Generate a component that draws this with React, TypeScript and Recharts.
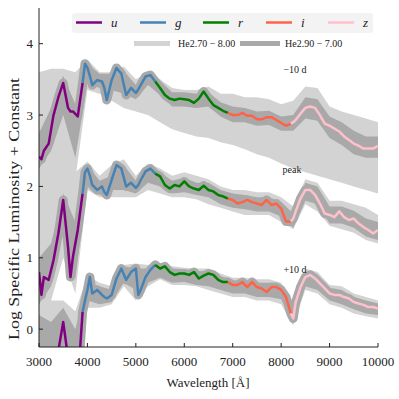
import { ComposedChart, Line, Area, XAxis, YAxis } from 'recharts';

// ─────────────────────────────────────────────
// Spectra (log specific luminosity + offset)
// ─────────────────────────────────────────────

const WAVE = [
  3000, 3050, 3100, 3200, 3300, 3400, 3500, 3600, 3650, 3700, 3800, 3900, 3950, 4000, 4050, 4100,
  4200, 4300, 4350, 4400, 4500, 4600, 4700, 4800, 4900, 5000, 5050, 5100, 5200, 5300, 5400, 5500,
  5600, 5700, 5800, 5900, 6000, 6100, 6200, 6300, 6400, 6500, 6600, 6700, 6800, 6900, 7000, 7100,
  7200, 7300, 7400, 7500, 7600, 7700, 7800, 7900, 8000, 8100, 8200, 8250, 8300, 8400, 8500, 8600,
  8700, 8800, 8900, 9000, 9100, 9200, 9300, 9400, 9500, 9600, 9700, 9800, 9900, 10000,
];

const NEG10 = [
  2.42, 2.38, 2.5, 2.6, 3.0, 3.25, 3.45, 3.1, 3.05, 3.05, 2.98, 3.45, 3.72, 3.66, 3.55, 3.42,
  3.49, 3.47, 3.38, 3.21, 3.49, 3.66, 3.58, 3.28, 3.38, 3.31, 3.36, 3.42, 3.54, 3.56, 3.47, 3.38,
  3.28, 3.23, 3.21, 3.23, 3.22, 3.21, 3.17, 3.23, 3.33, 3.23, 3.14, 3.1, 3.06, 3.03, 3.0, 3.0,
  3.03, 2.99, 2.99, 2.94, 2.94, 2.97, 2.97, 2.93, 2.89, 2.85, 2.88, 2.9, 2.93, 3.02, 3.1, 3.12,
  3.1, 3.0, 2.88, 2.85, 2.81, 2.77, 2.7, 2.65, 2.6, 2.57, 2.53, 2.53, 2.53, 2.57,
];

const PEAK = [
  0.8, 0.48, 0.73, 0.69, 0.97, 1.34, 1.81, 1.15, 0.73, 1.01, 1.39, 1.9, 2.2, 2.25, 2.15, 2.02,
  1.95, 2.0, 1.92, 1.88, 2.09, 2.3, 2.25, 2.0, 2.05, 1.98, 2.02, 2.09, 2.21, 2.25, 2.18, 2.14,
  2.02, 1.97, 2.02, 2.0, 2.07, 2.0, 1.97, 1.95, 2.01, 1.95, 1.93, 1.88, 1.86, 1.83, 1.81, 1.76,
  1.78, 1.81, 1.78, 1.76, 1.74, 1.81, 1.74, 1.76, 1.69, 1.51, 1.51, 1.55, 1.65, 1.83, 1.95, 1.95,
  1.88, 1.76, 1.62, 1.6, 1.57, 1.65, 1.57, 1.53, 1.55, 1.48, 1.43, 1.39, 1.34, 1.39,
];

const POS10 = [
  -0.6, -0.65, -0.7, -0.6, -0.55, -0.3, 0.1, -0.4, -0.7, -0.9, -0.75, 0.24, 0.4, 0.55, 0.73, 0.5,
  0.55, 0.48, 0.45, 0.43, 0.48, 0.71, 0.85, 0.69, 0.8, 0.85, 0.48, 0.55, 0.73, 0.83, 0.9, 0.85,
  0.88, 0.8, 0.76, 0.78, 0.78, 0.76, 0.8, 0.71, 0.75, 0.78, 0.76, 0.69, 0.66, 0.66, 0.62, 0.62,
  0.66, 0.59, 0.66, 0.59, 0.57, 0.52, 0.59, 0.59, 0.55, 0.45, 0.22, 0.15, 0.38, 0.59, 0.73, 0.76,
  0.71, 0.64, 0.57, 0.5, 0.48, 0.48, 0.45, 0.43, 0.38, 0.36, 0.34, 0.31, 0.31, 0.29,
];

// ─────────────────────────────────────────────
// Model bands (He 2.70–8.00 light, He 2.90–7.00 dark)
// ─────────────────────────────────────────────

const BAND_WAVE = [
  3000, 3250, 3500, 3750, 4000, 4250, 4500, 4750, 5000, 5250, 5500, 5750, 6000, 6250, 6500,
  6750, 7000, 7250, 7500, 7750, 8000, 8250, 8500, 8750, 9000, 9250, 9500, 9750, 10000,
];

const NEG10_LIGHT_LO = [2.0, 2.1, 2.2, 2.1, 3.35, 3.3, 3.2, 3.1, 3.05, 3.0, 2.9, 2.8, 2.75, 2.7, 2.68, 2.62, 2.58, 2.52, 2.45, 2.4, 2.32, 2.25, 2.2, 2.15, 2.1, 2.05, 2.0, 1.95, 1.9];
const NEG10_LIGHT_HI = [3.6, 3.65, 3.65, 3.6, 3.78, 3.6, 3.6, 3.68, 3.5, 3.6, 3.5, 3.38, 3.35, 3.35, 3.4, 3.3, 3.3, 3.25, 3.25, 3.22, 3.15, 3.2, 3.4, 3.38, 3.12, 3.05, 3.0, 2.95, 2.9];
const NEG10_DARK_LO = [2.25, 2.5, 3.0, 2.4, 3.45, 3.38, 3.35, 3.3, 3.22, 3.42, 3.28, 3.12, 3.12, 3.1, 3.12, 2.98, 2.9, 2.9, 2.85, 2.86, 2.78, 2.78, 2.95, 2.92, 2.68, 2.58, 2.45, 2.4, 2.4];
const NEG10_DARK_HI = [2.75, 3.1, 3.55, 3.15, 3.72, 3.58, 3.58, 3.62, 3.42, 3.62, 3.48, 3.32, 3.32, 3.3, 3.32, 3.18, 3.12, 3.1, 3.05, 3.06, 2.98, 3.0, 3.25, 3.22, 2.98, 2.9, 2.78, 2.7, 2.7];

const PEAK_LIGHT_LO = [0.2, 0.4, 1.0, 0.5, 1.95, 1.85, 1.85, 1.85, 1.85, 1.95, 1.9, 1.85, 1.85, 1.82, 1.75, 1.7, 1.65, 1.6, 1.6, 1.6, 1.5, 1.4, 1.75, 1.65, 1.45, 1.4, 1.35, 1.25, 1.2];
const PEAK_LIGHT_HI = [2.4, 2.4, 2.3, 2.2, 2.35, 2.15, 2.3, 2.38, 2.15, 2.32, 2.25, 2.15, 2.2, 2.15, 2.1, 2.0, 1.95, 1.95, 1.92, 1.92, 1.85, 1.72, 2.1, 2.05, 1.8, 1.8, 1.75, 1.7, 1.6];
const PEAK_DARK_LO = [0.35, 0.6, 1.4, 0.7, 2.05, 1.88, 1.95, 1.95, 1.9, 2.05, 2.0, 1.9, 1.92, 1.88, 1.85, 1.75, 1.7, 1.68, 1.65, 1.65, 1.58, 1.42, 1.8, 1.75, 1.48, 1.48, 1.42, 1.3, 1.25];
const PEAK_DARK_HI = [1.0, 1.2, 1.9, 1.5, 2.3, 2.08, 2.15, 2.3, 2.08, 2.28, 2.2, 2.08, 2.12, 2.05, 2.05, 1.95, 1.9, 1.88, 1.85, 1.85, 1.78, 1.62, 2.05, 2.0, 1.72, 1.72, 1.66, 1.55, 1.5];

const POS10_LIGHT_LO = [-0.3, -0.3, -0.3, -0.3, 0.3, 0.3, 0.35, 0.6, 0.4, 0.6, 0.7, 0.62, 0.62, 0.6, 0.55, 0.5, 0.45, 0.45, 0.4, 0.4, 0.35, 0.05, 0.55, 0.5, 0.35, 0.3, 0.22, 0.18, 0.15];
const POS10_LIGHT_HI = [0.5, 0.4, 0.4, 0.25, 0.75, 0.65, 0.6, 0.9, 0.92, 0.9, 0.92, 0.88, 0.86, 0.85, 0.85, 0.78, 0.72, 0.72, 0.7, 0.7, 0.65, 0.35, 0.85, 0.8, 0.62, 0.6, 0.5, 0.45, 0.4];
const POS10_DARK_LO = [-0.3, -0.3, -0.3, -0.3, 0.4, 0.35, 0.38, 0.65, 0.55, 0.65, 0.72, 0.65, 0.66, 0.62, 0.6, 0.55, 0.5, 0.5, 0.45, 0.45, 0.42, 0.08, 0.6, 0.55, 0.4, 0.35, 0.28, 0.22, 0.2];
const POS10_DARK_HI = [0.2, 0.1, 0.3, 0.0, 0.65, 0.6, 0.55, 0.88, 0.85, 0.85, 0.9, 0.85, 0.84, 0.82, 0.8, 0.74, 0.68, 0.68, 0.65, 0.65, 0.62, 0.3, 0.8, 0.75, 0.58, 0.55, 0.45, 0.4, 0.36];

// ─────────────────────────────────────────────
// Filters, axes, labels
// ─────────────────────────────────────────────

const FILTERS = ['u', 'g', 'r', 'i', 'z'];
const FILTER_EDGES = [3000, 3900, 5400, 6900, 8200, 10000];
const FILTER_COLORS = ['#800080', '#4682b4', '#008000', '#ff6347', '#ffc0cb'];

const X_TICKS = [3000, 4000, 5000, 6000, 7000, 8000, 9000, 10000];
const Y_TICKS = [0, 1, 2, 3, 4];

const EPOCH_LABELS = ['\u221210 d', 'peak', '+10 d'];
const BAND_LABELS = ['He2.70 \u2212 8.00', 'He2.90 \u2212 7.00'];

const LIGHT = '#d3d3d3';
const DARK = '#a9a9a9';
const FONT = '"Liberation Serif", "DejaVu Serif", serif';

const epochs = [
  { key: 'neg10', values: NEG10, light: [NEG10_LIGHT_LO, NEG10_LIGHT_HI], dark: [NEG10_DARK_LO, NEG10_DARK_HI] },
  { key: 'peak', values: PEAK, light: [PEAK_LIGHT_LO, PEAK_LIGHT_HI], dark: [PEAK_DARK_LO, PEAK_DARK_HI] },
  { key: 'pos10', values: POS10, light: [POS10_LIGHT_LO, POS10_LIGHT_HI], dark: [POS10_DARK_LO, POS10_DARK_HI] },
];

// one row per wavelength, with a column per epoch and per epoch/filter segment
const rows = WAVE.map((w, i) => {
  const row: Record<string, number | null> = { w };
  epochs.forEach((ep) => {
    row[ep.key] = ep.values[i];
    FILTERS.forEach((f, k) => {
      const inside = w >= FILTER_EDGES[k] && w <= FILTER_EDGES[k + 1];
      row[`${ep.key}_${f}`] = inside ? ep.values[i] : null;
    });
  });
  return row;
});

const bandRows = (lo: number[], hi: number[]) =>
  BAND_WAVE.map((w, i) => ({ w, range: [lo[i], hi[i]] }));

const TICK_STYLE = { fontFamily: FONT, fontSize: 13, fill: '#222' };

function XTick({ x, y, payload }: any) {
  return (
    <g>
      <line x1={x} x2={x} y1={y} y2={y - 4} stroke="#222" />
      <text x={x} y={y + 19} textAnchor="middle" style={TICK_STYLE}>
        {payload.value}
      </text>
    </g>
  );
}

function XTopTick({ x, y }: any) {
  return <line x1={x} x2={x} y1={y} y2={y + 4} stroke="#222" />;
}

function YTick({ x, y, payload }: any) {
  return (
    <g>
      <line x1={x} x2={x + 4} y1={y} y2={y} stroke="#222" />
      <text x={x - 6} y={y + 4.5} textAnchor="end" style={TICK_STYLE}>
        {payload.value}
      </text>
    </g>
  );
}

function YRightTick({ x, y }: any) {
  return <line x1={x} x2={x - 4} y1={y} y2={y} stroke="#222" />;
}

function Overlay() {
  const legendX = [76, 140, 203, 266, 328];
  const small = { fontFamily: FONT, fontSize: 10, fill: '#222' };
  return (
    <svg
      width={399}
      height={399}
      style={{ position: 'absolute', left: 0, top: 0, pointerEvents: 'none' }}
    >
      {/* filter legend */}
      <rect x={72} y={13} width={301} height={20} rx={3} fill="#f3f3f3" />
      {FILTERS.map((f, k) => (
        <g key={f}>
          <line x1={legendX[k]} x2={legendX[k] + 26} y1={22.5} y2={22.5} stroke={FILTER_COLORS[k]} strokeWidth={2.5} />
          <text x={legendX[k] + 35} y={27} style={{ fontFamily: FONT, fontSize: 13, fontStyle: 'italic', fill: '#222' }}>
            {f}
          </text>
        </g>
      ))}
      {/* band legend */}
      <line x1={134} x2={170} y1={43.5} y2={43.5} stroke={LIGHT} strokeWidth={5} />
      <text x={178} y={47} style={small}>{BAND_LABELS[0]}</text>
      <line x1={240} x2={280} y1={43.5} y2={43.5} stroke={DARK} strokeWidth={5} />
      <text x={285} y={47} style={small}>{BAND_LABELS[1]}</text>
      {/* epoch annotations */}
      <text x={295} y={73} textAnchor="middle" style={small}>{EPOCH_LABELS[0]}</text>
      <text x={292} y={173} textAnchor="middle" style={small}>{EPOCH_LABELS[1]}</text>
      <text x={295} y={273} textAnchor="middle" style={small}>{EPOCH_LABELS[2]}</text>
      {/* axis titles */}
      <text x={208} y={387} textAnchor="middle" style={TICK_STYLE}>Wavelength [Å]</text>
      <text
        x={0}
        y={0}
        transform="translate(19, 209) rotate(-90)"
        textAnchor="middle"
        textLength={262}
        lengthAdjust="spacingAndGlyphs"
        style={{ ...TICK_STYLE, fontSize: 14 }}
      >
        Log Specific Luminosity  +  Constant
      </text>
    </svg>
  );
}

export default function App() {
  return (
    <div style={{ position: 'absolute', left: 0, top: 0, width: 399, height: 399, background: '#fff' }}>
      <ComposedChart
        width={399}
        height={399}
        data={rows}
        margin={{ top: 8, right: 21, bottom: 0, left: 0 }}
      >
        <XAxis
          dataKey="w"
          type="number"
          domain={[3000, 10000]}
          ticks={X_TICKS}
          height={52}
          tickSize={0}
          tickMargin={0}
          tickLine={false}
          tick={<XTick />}
          axisLine={{ stroke: '#222' }}
          allowDataOverflow
        />
        <XAxis
          xAxisId="top"
          orientation="top"
          dataKey="w"
          type="number"
          domain={[3000, 10000]}
          ticks={X_TICKS}
          height={0}
          tickSize={0}
          tickMargin={0}
          tickLine={false}
          tick={<XTopTick />}
          axisLine={{ stroke: '#222' }}
        />
        <YAxis
          type="number"
          domain={[-0.25, 4.5]}
          ticks={Y_TICKS}
          width={39}
          tickSize={0}
          tickMargin={0}
          tickLine={false}
          tick={<YTick />}
          axisLine={{ stroke: '#222' }}
          allowDataOverflow
        />
        <YAxis
          yAxisId="right"
          orientation="right"
          type="number"
          domain={[-0.25, 4.5]}
          ticks={Y_TICKS}
          width={0}
          tickSize={0}
          tickMargin={0}
          tickLine={false}
          tick={<YRightTick />}
          axisLine={{ stroke: '#222' }}
        />

        {epochs.map((ep) => (
          <Area
            key={`${ep.key}-light`}
            data={bandRows(ep.light[0], ep.light[1])}
            dataKey="range"
            type="linear"
            stroke="none"
            fill={LIGHT}
            fillOpacity={1}
            dot={false}
            activeDot={false}
            isAnimationActive={false}
          />
        ))}
        {epochs.map((ep) => (
          <Area
            key={`${ep.key}-dark`}
            data={bandRows(ep.dark[0], ep.dark[1])}
            dataKey="range"
            type="linear"
            stroke="none"
            fill={DARK}
            fillOpacity={1}
            dot={false}
            activeDot={false}
            isAnimationActive={false}
          />
        ))}
        {/* dark band hugging each spectrum */}
        {epochs.map((ep) => (
          <Line
            key={`${ep.key}-halo`}
            dataKey={ep.key}
            type="linear"
            stroke={DARK}
            strokeWidth={9}
            strokeLinejoin="round"
            dot={false}
            activeDot={false}
            isAnimationActive={false}
          />
        ))}
        {epochs.map((ep) =>
          FILTERS.map((f, k) => (
            <Line
              key={`${ep.key}_${f}`}
              dataKey={`${ep.key}_${f}`}
              type="linear"
              stroke={FILTER_COLORS[k]}
              strokeWidth={2.5}
              strokeLinejoin="round"
              dot={false}
              activeDot={false}
              isAnimationActive={false}
            />
          ))
        )}
      </ComposedChart>
      <Overlay />
    </div>
  );
}
